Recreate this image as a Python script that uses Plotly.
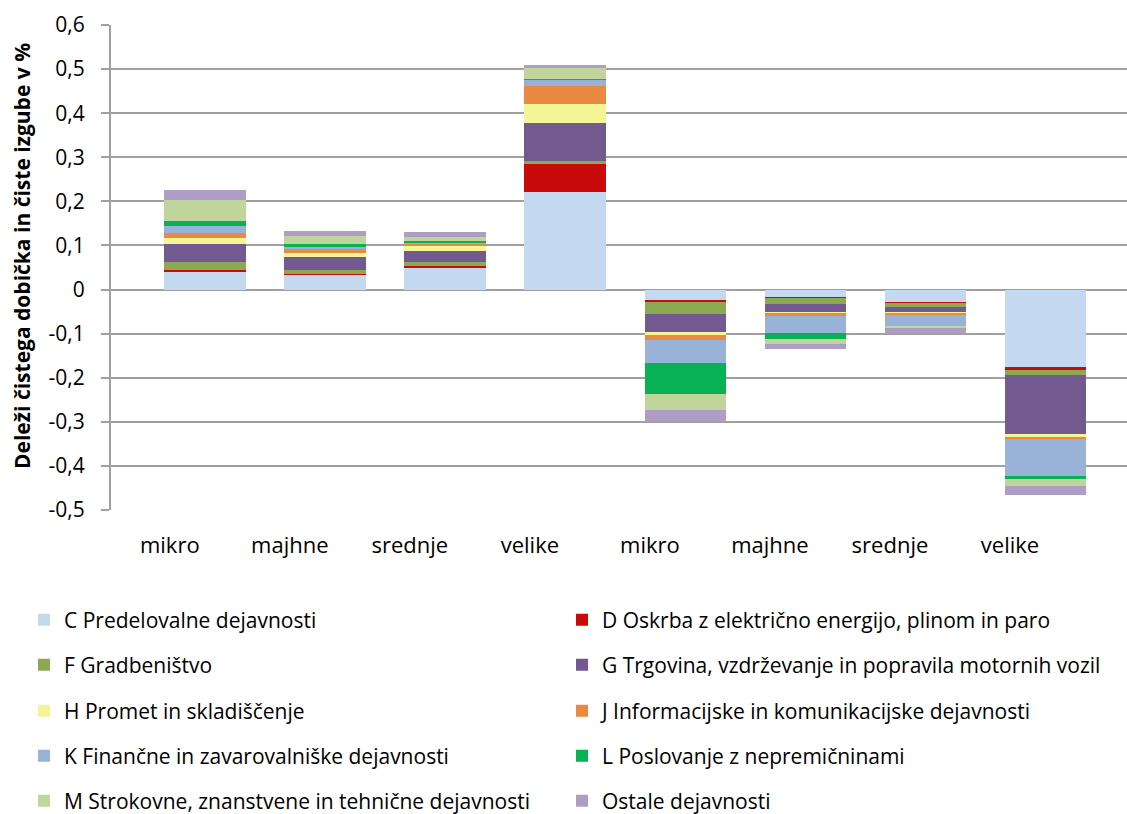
import plotly.graph_objects as go

categories = ["mikro", "majhne", "srednje", "velike", "mikro", "majhne", "srednje", "velike"]
x_pos = [0, 1, 2, 3, 4, 5, 6, 7]

series_names = [
    "C Predelovalne dejavnosti",
    "D Oskrba z električno energijo, plinom in paro",
    "F Gradbeništvo",
    "G Trgovina, vzdrževanje in popravila motornih vozil",
    "H Promet in skladiščenje",
    "J Informacijske in komunikacijske dejavnosti",
    "K Finančne in zavarovalniške dejavnosti",
    "L Poslovanje z nepremičninami",
    "M Strokovne, znanstvene in tehnične dejavnosti",
    "Ostale dejavnosti",
]

C_vals = [0.040, 0.033, 0.051, 0.221, -0.023, -0.017, -0.029, -0.176]
D_vals = [0.005, 0.002, 0.003, 0.063, -0.005, -0.002, -0.001, -0.0075]
F_vals = [0.017, 0.009, 0.0075, 0.0075, -0.027, -0.013, -0.009, -0.010]
G_vals = [0.042, 0.029, 0.027, 0.086, -0.041, -0.021, -0.014, -0.133]
H_vals = [0.013, 0.011, 0.011, 0.044, -0.007, -0.001, -0.001, -0.009]
J_vals = [0.011, 0.010, 0.0045, 0.040, -0.011, -0.007, -0.003, -0.0045]
K_vals = [0.016, 0.0045, 0.002, 0.015, -0.052, -0.038, -0.026, -0.083]
L_vals = [0.011, 0.0045, 0.003, 0.001, -0.072, -0.014, -0.001, -0.007]
M_vals = [0.048, 0.019, 0.010, 0.026, -0.036, -0.011, -0.004, -0.016]
O_vals = [0.023, 0.011, 0.011, 0.006, -0.025, -0.010, -0.011, -0.020]

y_tickvals = [0.6, 0.5, 0.4, 0.3, 0.2, 0.1, 0.0, -0.1, -0.2, -0.3, -0.4, -0.5]
y_ticktext = ["0,6", "0,5", "0,4", "0,3", "0,2", "0,1", "0", "-0,1", "-0,2", "-0,3", "-0,4", "-0,5"]

y_title = "Deleži čistega dobička in čiste izgube v %"

colors = ["#C4D8F0", "#C80A0A", "#8CA852", "#72598F", "#F4F596",
          "#E88A42", "#98B2D8", "#08B254", "#C0D59C", "#AE9EC6"]

all_vals = [C_vals, D_vals, F_vals, G_vals, H_vals, J_vals, K_vals, L_vals, M_vals, O_vals]
legend_ids = ["legend", "legend", "legend2", "legend2", "legend3", "legend3",
              "legend4", "legend4", "legend5", "legend5"]

FONT = "Open Sans"

fig = go.Figure()
for name, vals, col, lg in zip(series_names, all_vals, colors, legend_ids):
    fig.add_trace(go.Bar(
        x=x_pos, y=vals, name=name,
        marker=dict(color=col, line=dict(width=0)),
        width=0.68, offset=-0.045,
        legend=lg,
    ))

plot_left, plot_right = 111, 1127
plot_top, plot_bottom = 25, 510
pw = plot_right - plot_left
ph = plot_bottom - plot_top
row_px = [620, 665, 711, 756, 801]
leg_x = (24 - plot_left) / pw

def leg(row):
    return dict(
        orientation="h", x=leg_x, xanchor="left",
        y=(plot_bottom - row_px[row]) / ph, yanchor="middle",
        entrywidth=493, entrywidthmode="pixels",
        traceorder="normal",
        font=dict(family=FONT, size=21, color="#000000"),
        bgcolor="rgba(0,0,0,0)", itemclick=False,
    )

fig.update_layout(
    width=1127, height=814,
    margin=dict(l=plot_left, r=1127 - plot_right, t=plot_top, b=814 - plot_bottom, autoexpand=False),
    barmode="relative",
    bargap=0,
    plot_bgcolor="white", paper_bgcolor="white",
    font=dict(family=FONT, size=21, color="#000000"),
    showlegend=True,
    legend=leg(0), legend2=leg(1), legend3=leg(2), legend4=leg(3), legend5=leg(4),
    xaxis=dict(
        range=[-0.49, 7.975],
        tickvals=x_pos, ticktext=categories,
        showgrid=False, zeroline=False, showline=False,
        ticks="", ticklabelstandoff=20, automargin=False,
        tickfont=dict(family=FONT, size=22, color="#000000"),
    ),
    yaxis=dict(
        range=[-0.5, 0.6],
        tickvals=y_tickvals, ticktext=y_ticktext,
        showgrid=True, gridcolor="#A0A0A0", gridwidth=2,
        zeroline=True, zerolinecolor="#A0A0A0", zerolinewidth=2,
        showline=True, linecolor="#A0A0A0", linewidth=2,
        ticks="outside", ticklen=8, tickcolor="#A0A0A0", tickwidth=2,
        ticklabelstandoff=12, automargin=False,
        tickfont=dict(family=FONT, size=21, color="#000000"),
    ),
    annotations=[dict(
        text="<b>" + y_title + "</b>",
        xref="paper", yref="paper",
        x=(22 - plot_left) / pw, y=(plot_bottom - 256) / ph,
        xanchor="center", yanchor="middle",
        textangle=-90, showarrow=False,
        font=dict(family=FONT, size=21, color="#000000"),
    )],
)

fig.write_html(
    "out.html",
    config={"displayModeBar": False},
    post_script="document.body.style.margin='0px';document.body.style.padding='0px';",
)
